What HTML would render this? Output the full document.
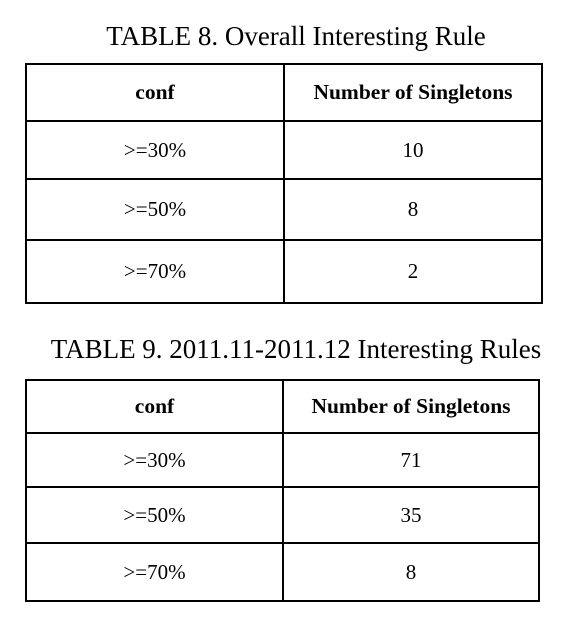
<!DOCTYPE html>
<html><head><meta charset="utf-8"><style>
html,body{margin:0;padding:0;background:#fff;}
body{width:575px;height:621px;position:relative;overflow:hidden;font-family:"Liberation Serif",serif;color:#000;}
.t{position:absolute;left:0;width:592px;text-align:center;font-size:27px;line-height:31px;white-space:nowrap;}
.l{position:absolute;background:#000;}
.c{position:absolute;display:flex;align-items:center;justify-content:center;font-size:21px;}
.h{font-weight:bold;font-size:21.5px;}
</style></head><body>
<div class="t" style="top:21px;">TABLE 8. Overall Interesting Rule</div>
<div id="t8"></div>
<div class="t" style="top:334px;left:-4px;width:600px;">TABLE 9. 2011.11-2011.12 Interesting Rules</div>
<div id="t9"></div>
<script>
function build(id, x0, x1, xs, ys, rows){
  var host=document.getElementById(id);
  function line(x,y,w,h){var d=document.createElement('div');d.className='l';
    
    
    d.style.left=x+'px';d.style.top=y+'px';d.style.width=w+'px';d.style.height=h+'px';host.appendChild(d);}
  ys.forEach(function(y){line(x0-1,y-1,x1-x0+2,2);});
  [x0,xs,x1].forEach(function(x){line(x-1,ys[0]-1,2,ys[ys.length-1]-ys[0]+2);});
  rows.forEach(function(r,i){
    [[x0,xs],[xs,x1]].forEach(function(c,j){
      var d=document.createElement('div');d.className='c'+(i==0?' h':'');
      
      
      d.style.left=c[0]+'px';d.style.width=(c[1]-c[0])+'px';
      d.style.top=ys[i]+'px';d.style.height=(ys[i+1]-ys[i])+'px';
      d.textContent=r[j];host.appendChild(d);
    });
  });
}
build('t8',26,542,284,[64,121,179,240,303],[['conf','Number of Singletons'],['>=30%','10'],['>=50%','8'],['>=70%','2']]);
build('t9',26,539,283,[380,433,487,543,601],[['conf','Number of Singletons'],['>=30%','71'],['>=50%','35'],['>=70%','8']]);
</script>
</body></html>
